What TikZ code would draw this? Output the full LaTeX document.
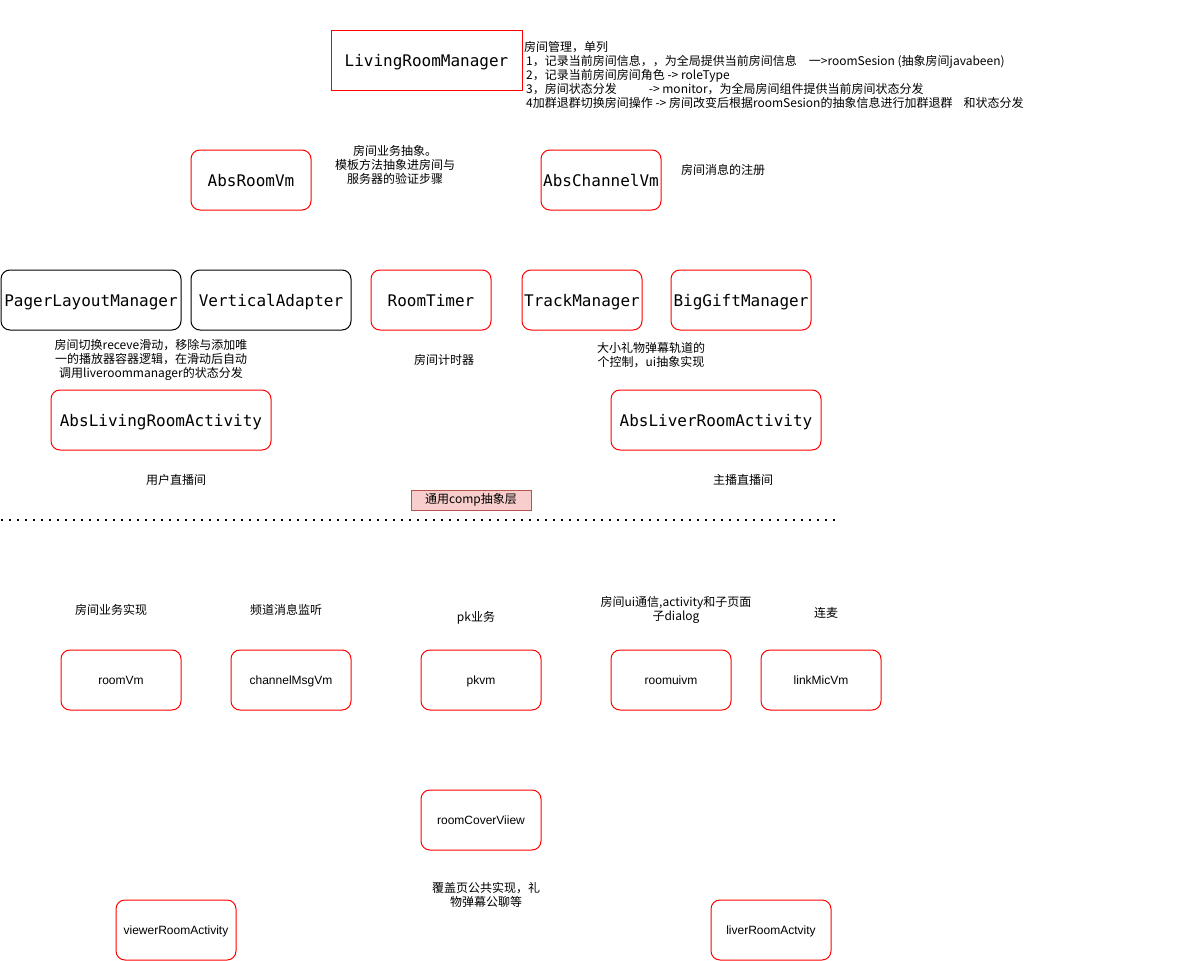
\documentclass[tikz,border=0pt]{standalone}
\usepackage{fontspec}
\setmainfont{Liberation Sans}
\newfontfamily\cjk{Noto Sans CJK SC}
\newfontfamily\codefont{DejaVu Sans Mono}
\begin{document}
\tikzset{
  rbox/.style={draw=red, line width=1pt, rounded corners=9pt, minimum width=120pt, minimum height=60pt, inner sep=0pt},
  kbox/.style={rbox, draw=black},
  mono/.style={font=\codefont\fontsize{16}{19}\selectfont, text height=15pt, text depth=3pt},
  plain/.style={font=\fontsize{12}{14}\selectfont, text height=10pt, text depth=2pt},
  note/.style={font=\cjk\fontsize{12}{14}\selectfont, align=center, inner sep=0pt},
  layer/.style={line width=2pt, dash pattern=on 2pt off 6pt}
}
\begin{tikzpicture}[x=1pt, y=-1pt]
\useasboundingbox (0,0) rectangle (1192,961);
% top manager
\node[draw=red, line width=1pt, minimum width=191pt, minimum height=60pt, inner sep=0pt, mono] (lrm) at (426.5,60) {LivingRoomManager};
\node[note, align=left, anchor=west] (lrmnote) at (524,75) {房间管理，单列\\
\,1，记录当前房间信息，，为全局提供当前房间信息\hspace{12pt}一>roomSesion (抽象房间javabeen)\\
\,2，记录当前房间房间角色 -> roleType\\
\,3，房间状态分发\hspace{32pt}-> monitor，为全局房间组件提供当前房间状态分发\\
\,4加群退群切换房间操作 -> 房间改变后根据roomSesion的抽象信息进行加群退群\hspace{11pt}和状态分发};
% abstract vm
\node[rbox, mono] (absroom) at (251,180) {AbsRoomVm};
\node[note] (absroomnote) at (395,165) {房间业务抽象。\\模板方法抽象进房间与\\服务器的验证步骤};
\node[rbox, mono] (abschannel) at (601,180) {AbsChannelVm};
\node[note] (abschannelnote) at (723,170) {房间消息的注册};
% helpers
\node[kbox, mono, minimum width=180pt] (pager) at (91,300) {PagerLayoutManager};
\node[kbox, mono, minimum width=160pt] (vadapter) at (271,300) {VerticalAdapter};
\node[rbox, mono] (timer) at (431,300) {RoomTimer};
\node[rbox, mono] (track) at (582,300) {TrackManager};
\node[rbox, mono, minimum width=140pt] (biggift) at (741,300) {BigGiftManager};
\node[note] (pagernote) at (151,360) {房间切换receve滑动，移除与添加唯\\一的播放器容器逻辑，在滑动后自动\\调用liveroommanager的状态分发};
\node[note] (timernote) at (444,360) {房间计时器};
\node[note] (tracknote) at (651,355) {大小礼物弹幕轨道的\\个控制，ui抽象实现};
% activities
\node[rbox, mono, minimum width=220pt] (absliving) at (161,420) {AbsLivingRoomActivity};
\node[rbox, mono, minimum width=210pt] (absliver) at (716,420) {AbsLiverRoomActivity};
\node[note] (livingnote) at (176,480) {用户直播间};
\node[note] (livernote) at (743,480) {主播直播间};
\node[draw={rgb,255:red,184;green,84;blue,80}, fill={rgb,255:red,248;green,206;blue,204}, line width=1pt, minimum width=120pt, minimum height=20pt, inner sep=0pt, font=\cjk\fontsize{12}{14}\selectfont] (commlayer) at (471,500) {通用comp抽象层};
\coordinate (layerL) at (1,520);
\coordinate (layerR) at (838,520);
\draw[layer] (layerL) -- (layerR);
% implementations
\node[note] (roomvmnote) at (111,610) {房间业务实现};
\node[note] (channelnote) at (286,610) {频道消息监听};
\node[note] (pknote) at (476,618) {pk业务};
\node[note] (uinote) at (676,610) {房间ui通信,activity和子页面\\子dialog};
\node[note] (micnote) at (826,613) {连麦};
\node[rbox, plain] (roomvm) at (121,680) {roomVm};
\node[rbox, plain] (channelmsg) at (291,680) {channelMsgVm};
\node[rbox, plain] (pkvm) at (481,680) {pkvm};
\node[rbox, plain] (roomui) at (671,680) {roomuivm};
\node[rbox, plain] (linkmic) at (821,680) {linkMicVm};
\node[rbox, plain] (cover) at (481,820) {roomCoverViiew};
\node[note] (covernote) at (486,895) {覆盖页公共实现，礼\\物弹幕公聊等};
\node[rbox, plain] (viewer) at (176,930) {viewerRoomActivity};
\node[rbox, plain] (liver) at (771,930) {liverRoomActvity};
\end{tikzpicture}
\end{document}
